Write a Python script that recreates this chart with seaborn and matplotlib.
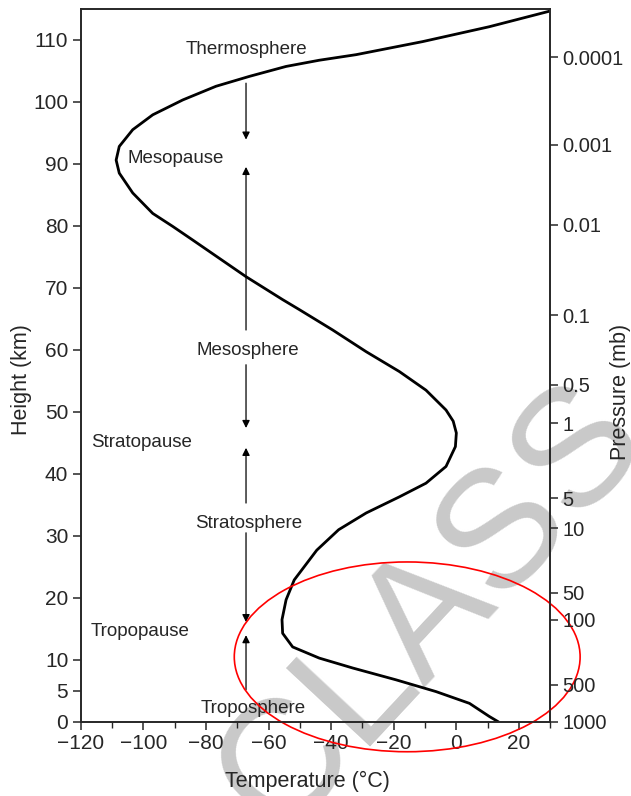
import matplotlib
matplotlib.use("Agg")
import matplotlib.pyplot as plt
from matplotlib.patches import Ellipse
import seaborn as sns
import pandas as pd

# temperature profile (height km, temperature degC)
height = [0, 0.9, 3.0, 4.9, 6.8, 8.7, 10.3, 12.1, 14.3, 16.5, 19.7, 22.9, 26.1,
          27.7, 31.0, 33.7, 36.3, 38.5, 41.2, 44.4, 46.6, 48.5, 50.3, 53.5, 56.5,
          59.7, 63.2, 66.5, 68.1, 71.8, 77.7, 79.9, 82.0, 85.3, 88.5, 90.6, 92.8,
          95.5, 97.9, 100.3, 102.5, 104.1, 105.7, 106.7, 107.6, 109.7, 112.1, 114.6]
temperature = [13.5, 10.5, 4.2, -6.5, -19.3, -33.1, -43.8, -52.3, -55.5, -55.7,
               -54.4, -51.8, -47.0, -44.6, -37.6, -28.8, -18.2, -9.7, -3.3, -0.3,
               0.0, -1.0, -3.3, -9.7, -18.2, -28.8, -39.5, -50.2, -55.5, -67.2,
               -84.2, -90.6, -97.0, -103.4, -107.7, -108.7, -107.7, -103.4, -97.0,
               -87.4, -76.8, -66.1, -54.4, -43.8, -32.0, -10.8, 10.5, 29.7]

# pressure scale on the right (height where each label sits)
pressure_heights = [107.2, 93.1, 80.2, 65.6, 54.4, 48.2, 36.1, 31.2, 20.8, 16.5, 6.0, 0]
pressure_labels = ["0.0001", "0.001", "0.01", "0.1", "0.5", "1", "5", "10",
                   "50", "100", "500", "1000"]

# layer names
layer_names = ["Thermosphere", "Mesopause", "Mesosphere", "Stratopause",
               "Stratosphere", "Tropopause", "Troposphere"]
layer_x = [-67, -105, -66.5, -116.7, -66.5, -116.7, -65]
layer_y = [107.7, 90.1, 59.2, 44.4, 31.2, 13.9, 1.4]
layer_ha = ["center", "left", "center", "left", "center", "left", "center"]

# vertical arrows (start height, tip height) at T = -67
arrow_x = -67.2
arrow_start = [103.0, 63.2, 57.6, 35.3, 30.5, 5.2]
arrow_tip = [93.9, 89.5, 47.4, 44.2, 16.1, 14.0]

df = pd.DataFrame({"Height": height, "Temperature": temperature})

sns.set_style("ticks")
plt.rcParams["font.family"] = ["Liberation Sans", "DejaVu Sans"]

fig = plt.figure(figsize=(6.31, 7.96), dpi=100)
ax = fig.add_axes([0.128, 0.093, 0.744, 0.896])
ax.patch.set_alpha(0)

# watermark, runs off the edge like in the scan
fig.text(0.685, 0.235, "CLASS", fontsize=120, color="#c9c9c9", rotation=47,
         ha="center", va="center", zorder=-1)

sns.lineplot(data=df, x="Temperature", y="Height", sort=False, estimator=None,
             color="black", linewidth=2.0, ax=ax)

for s, t in zip(arrow_start, arrow_tip):
    ax.annotate("", xy=(arrow_x, t), xytext=(arrow_x, s),
                arrowprops=dict(arrowstyle="-|>", color="black", lw=0.9,
                                mutation_scale=11, shrinkA=0, shrinkB=0))

for name, x, y, ha in zip(layer_names, layer_x, layer_y, layer_ha):
    ax.text(x, y, name, ha=ha, va="baseline", fontsize=13.5)

ax.add_patch(Ellipse((-15.7, 10.5), 110.5, 30.6, fill=False, edgecolor="red",
                     lw=1.2, clip_on=False, zorder=5))

ax.set_xlim(-120, 30)
ax.set_ylim(0, 115)
ax.set_xticks(range(-120, 21, 20))
ax.set_xticks(range(-120, 31, 10), minor=True)
ax.set_yticks([0, 5, 10, 20, 30, 40, 50, 60, 70, 80, 90, 100, 110])
ax.set_xlabel("Temperature (°C)", fontsize=15.5)
ax.set_ylabel("Height (km)", fontsize=15.5)
ax.xaxis.set_label_coords(0.482, -0.069)
ax.yaxis.set_label_coords(-0.104, 0.48)
ax.tick_params(axis="both", which="major", labelsize=15, length=6, width=1.1, pad=3)
ax.tick_params(axis="x", which="minor", length=4, width=1.0)

ax2 = ax.twinx()
ax2.set_ylim(0, 115)
ax2.set_yticks(pressure_heights)
ax2.set_yticklabels(pressure_labels)
ax2.set_ylabel("Pressure (mb)", fontsize=15.5)
ax2.yaxis.set_label_coords(1.128, 0.463)
ax2.tick_params(axis="y", labelsize=14.5, length=6, width=1.1, pad=3)

for a in (ax, ax2):
    for sp in a.spines.values():
        sp.set_visible(True)
        sp.set_linewidth(1.2)

fig.savefig("out.png", dpi=100)
